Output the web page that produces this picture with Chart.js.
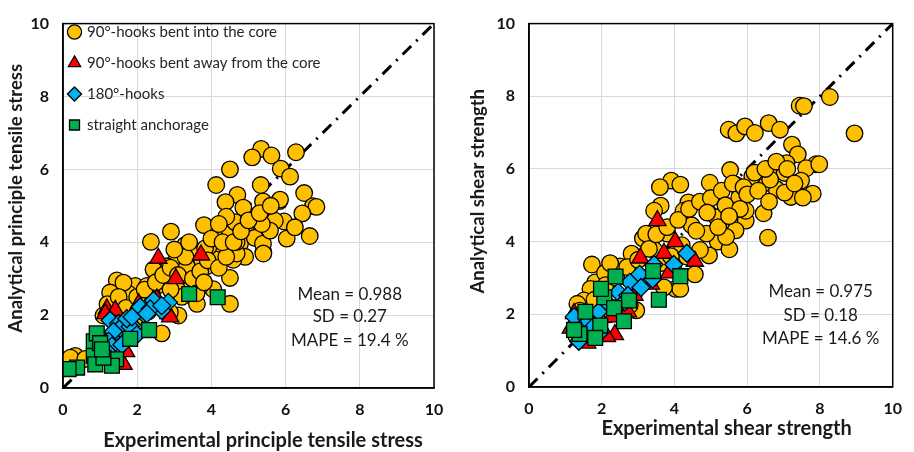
<!DOCTYPE html>
<html>
<head>
<meta charset="utf-8">
<script src="https://cdn.jsdelivr.net/npm/chart.js@4.4.1/dist/chart.umd.min.js"></script>
<style>
  body { margin: 0; background: #fff; }
  #wrap { display: flex; width: 914px; height: 452px; }
  .box { position: relative; width: 457px; height: 452px; }
</style>
</head>
<body>
<div id="wrap">
  <div class="box"><canvas id="tensileChart"></canvas></div>
  <div class="box"><canvas id="shearChart"></canvas></div>
</div>
<script>
// font giống Calibri
Chart.defaults.font.family = "Lato, 'Open Sans', sans-serif";
Chart.defaults.color = "#1a1a1a";

// ---- nhãn ----
const seriesLabels = [
  "90°-hooks bent into the core",
  "90°-hooks bent away from the core",
  "180°-hooks",
  "straight anchorage",
];
const axisTicks = [0, 2, 4, 6, 8, 10];
const tensileStats = ["Mean = 0.988", "SD = 0.27", "MAPE = 19.4 %"];
const shearStats = ["Mean = 0.975", "SD = 0.18", "MAPE = 14.6 %"];

// ---- principle tensile stress (trái) ----
const tCoreExp = [5.34,5.10,5.62,6.28,4.50,5.87,6.12,4.13,5.33,4.70,6.50,4.38,4.86,5.83,6.74,6.83,5.49,6.45,3.80,4.62,
  5.13,5.96,5.67,4.32,4.95,5.20,5.40,6.03,6.25,6.65,2.91,2.37,3.29,3.52,4.10,4.59,4.77,4.91,5.40,3.07,
  2.80,3.47,3.87,4.14,4.59,4.50,4.05,3.61,4.50,3.70,2.53,2.62,1.45,1.27,1.95,1.77,1.63,2.39,3.11,2.66,
  2.88,1.09,0.33,0.20,1.54,2.04,3.29,3.07,3.92,3.74,3.34,2.44,2.26,5.39,5.17,3.83,4.68,4.50,5.39,5.85,
  5.71,5.58,4.64,5.36,4.68,5.40,1.20,1.50,1.70,2.00,2.20,2.50,2.70,2.90,3.10,3.30,3.50,3.70,3.90,4.20,
  4.40,4.00,4.30,3.60,3.80,2.30,2.00,1.80,1.30,0.60,0.90,3.20,2.90,3.00,3.40,4.60,4.80,5.00,5.30,5.60,
  4.40,4.20];
const tCoreAna = [6.56,6.33,6.38,6.47,6.00,6.02,5.80,5.57,5.57,5.30,5.35,5.10,4.95,5.13,4.99,4.97,4.86,4.79,4.47,4.53,
  4.54,4.57,4.59,4.32,4.28,4.14,4.45,4.10,4.41,4.17,4.29,4.01,3.92,3.78,3.74,3.78,3.96,3.60,3.74,3.56,
  3.34,3.25,3.34,3.52,3.52,3.02,2.71,2.31,2.31,2.80,2.80,3.16,2.95,2.62,2.80,2.58,2.89,2.58,1.99,1.50,
  2.08,1.99,0.88,0.83,2.26,2.17,2.67,2.71,3.87,3.52,3.34,3.25,2.80,5.12,4.12,3.83,3.69,4.23,3.96,5.17,
  4.59,4.32,4.55,4.50,4.01,3.69,2.30,2.50,2.20,2.50,2.70,2.90,3.10,3.30,3.10,3.60,3.00,3.20,3.50,3.30,
  3.60,4.10,4.00,2.60,2.90,2.10,1.90,1.60,1.40,0.80,1.10,2.50,2.70,3.80,4.00,4.00,4.30,4.60,4.80,5.00,
  4.70,4.50];
const tAwayExp = [2.57,3.72,3.04,1.18,1.41,2.04,2.84,1.59,1.14,2.89,1.63,2.53,1.70,2.20];
const tAwayAna = [3.56,3.65,3.00,2.17,2.13,2.31,2.04,0.70,2.04,1.95,0.65,2.44,1.00,1.60];
const tHookExp = [1.27,1.50,2.44,2.84,1.90,1.45,2.17,2.66,1.36,1.54,1.36,2.08,2.35,2.66,1.81,1.23,1.72,1.86,2.26,1.32,1.59,1.99,1.27];
const tHookAna = [1.86,1.77,2.40,2.35,1.68,1.32,2.04,2.13,1.46,1.64,1.55,2.22,2.17,2.26,1.68,1.28,1.90,1.95,2.04,1.15,1.19,1.46,0.92];
const tStraightExp = [3.40,4.17,2.32,1.81,0.83,0.83,1.43,0.38,0.15,0.91,1.00,0.87,1.32,1.09,1.05];
const tStraightAna = [2.58,2.49,1.59,1.35,1.28,0.88,0.79,0.56,0.52,1.50,1.23,0.65,0.61,0.83,1.06];

// ---- shear strength (phải) ----
const sCoreExp = [8.27,8.95,7.44,7.56,5.49,5.70,5.94,6.21,6.59,6.90,7.23,7.39,7.89,7.62,6.68,7.03,7.48,7.80,7.20,6.81,
  6.41,5.53,5.68,6.14,4.97,3.91,4.16,3.60,3.62,3.44,4.38,4.25,4.92,5.16,5.49,5.73,5.96,6.45,6.57,4.47,
  3.13,3.44,2.82,5.19,5.51,4.95,4.70,4.03,4.16,3.71,4.56,1.73,2.50,1.82,1.69,1.51,1.33,2.95,2.77,2.09,
  2.23,3.22,3.80,4.88,5.78,5.96,6.63,7.08,7.53,7.98,7.03,5.68,5.42,4.34,3.98,3.62,1.40,1.80,2.10,2.40,
  2.70,3.00,3.30,3.50,3.80,4.10,4.40,4.70,5.00,5.30,5.60,5.90,6.20,6.50,6.80,7.10,5.40,5.20,4.60,4.90,
  4.20,3.90,3.20,2.90,2.60,2.20,1.90,1.50,1.30,6.00,6.30,5.80,5.50,6.60,7.30];
const sCoreAna = [7.98,6.98,7.74,7.73,7.08,6.98,7.17,6.99,7.26,7.08,6.67,6.40,6.13,6.02,6.04,5.89,5.68,5.32,5.23,5.44,
  5.57,5.97,5.57,5.80,5.62,5.68,5.57,5.50,4.99,4.85,5.08,4.85,4.81,4.67,4.40,5.03,4.58,4.78,4.11,4.45,
  4.09,3.77,3.67,4.00,3.79,3.62,3.77,2.70,2.70,2.74,3.10,3.37,3.32,2.88,2.70,2.38,2.29,2.11,2.25,3.14,
  3.41,4.22,4.22,4.22,5.21,4.85,5.71,6.16,5.21,6.13,5.35,4.31,4.13,3.59,3.23,3.41,2.10,2.40,2.80,3.00,
  3.30,3.50,3.80,4.20,4.40,4.60,4.90,5.10,5.20,5.40,5.60,5.50,5.90,6.00,6.20,6.00,5.00,4.40,4.30,4.80,
  3.90,3.60,3.00,2.60,2.30,2.00,1.80,1.60,1.40,5.30,5.40,4.90,4.70,5.10,5.60];
const sAwayExp = [3.53,4.02,3.71,3.06,4.56,3.85,3.35,2.90,1.24,1.15,2.36,2.14,1.60,2.72,2.27];
const sAwayAna = [4.58,4.00,3.68,3.55,3.46,3.14,2.83,2.52,2.02,1.62,1.44,1.39,1.21,2.07,1.93];
const sHookExp = [4.34,3.98,3.44,3.04,2.77,3.08,2.45,2.18,1.91,1.24,1.64,1.37,1.73,1.98,2.63,2.72,1.28,3.40];
const sHookAna = [3.68,3.37,3.37,3.10,2.88,2.74,2.61,2.29,2.07,1.93,1.80,1.26,1.62,1.53,2.34,2.52,1.53,2.97];
const sStraightExp = [2.38,3.41,4.16,3.57,2.07,2.75,1.98,2.34,1.55,2.61,1.96,1.39,1.82,1.24];
const sStraightAna = [3.04,3.19,3.05,2.40,2.47,2.38,2.70,2.17,2.07,1.81,1.69,1.46,1.35,1.57];

function pts(xs, ys) {
  return xs.map((x, i) => ({ x: x, y: ys[i] }));
}

// kiểu marker cho từng nhóm
const markerStyles = [
  { pointStyle: "circle", color: "#FFC000", radius: 8.3, order: 4 },
  { pointStyle: "triangle", color: "#FF0000", radius: 10, order: 3 },
  { pointStyle: "rectRot", color: "#00B0F0", radius: 9, order: 2 },
  { pointStyle: "rect", color: "#00B050", radius: 10.5, order: 1 },
];

// vẽ khung quanh vùng biểu đồ
const framePlugin = {
  id: "frameBox",
  afterDraw(chart) {
    const a = chart.chartArea;
    const c = chart.ctx;
    c.save();
    c.strokeStyle = "#000";
    c.lineWidth = 1.5;
    c.strokeRect(a.left, a.top, a.right - a.left, a.bottom - a.top);
    c.restore();
  },
};
// chữ thống kê (Mean, SD, MAPE)
const statsPlugin = {
  id: "statsText",
  afterDatasetsDraw(chart, args, opts) {
    if (!opts.lines) return;
    const c = chart.ctx;
    const xs = chart.scales.x;
    const ys = chart.scales.y;
    c.save();
    c.font = "17px Lato, 'Open Sans', sans-serif";
    c.fillStyle = "#1a1a1a";
    c.textAlign = "center";
    c.textBaseline = "middle";
    opts.lines.forEach((t, i) => {
      c.fillText(t, xs.getPixelForValue(opts.x), ys.getPixelForValue(opts.y[i]));
    });
    c.restore();
  },
};
// tiêu đề trục (lệch tâm như hình gốc)
const axisTitlePlugin = {
  id: "axisTitles",
  afterDraw(chart, args, opts) {
    if (!opts.x) return;
    const a = chart.chartArea;
    const c = chart.ctx;
    c.save();
    c.fillStyle = "#1a1a1a";
    c.textAlign = "center";
    c.textBaseline = "middle";
    c.font = "bold 20px Lato, 'Open Sans', sans-serif";
    c.fillText(opts.x.text, (a.left + a.right) / 2 + opts.x.dx, opts.x.y);
    c.translate(opts.y.x, (a.top + a.bottom) / 2 + opts.y.dy);
    c.rotate(-Math.PI / 2);
    c.font = "bold 18.5px Lato, 'Open Sans', sans-serif";
    c.fillText(opts.y.text, 0, 0);
    c.restore();
  },
};
const legendShift = {
  id: "legendShift",
  afterLayout(chart, args, opts) {
    if (chart.legend && chart.legend.options.display && opts.dx !== undefined) {
      chart.legend.left += opts.dx;
      chart.legend.top += opts.dy;
    }
  },
};

function makeChart(id, series, titles, stats, lay) {
  const datasets = series.map((s, i) => ({
    type: "scatter",
    label: seriesLabels[i],
    data: s,
    pointStyle: markerStyles[i].pointStyle,
    pointRadius: markerStyles[i].radius,
    pointHoverRadius: markerStyles[i].radius,
    backgroundColor: markerStyles[i].color,
    borderColor: "#000",
    borderWidth: 1.3,
    order: markerStyles[i].order,
  }));
  // đường 1:1
  datasets.push({
    type: "line",
    label: "1:1",
    data: [{ x: 0, y: 0 }, { x: 10, y: 10 }],
    borderColor: "#000",
    borderWidth: 3,
    borderDash: [12, 7, 2, 7],
    pointRadius: 0,
    order: 5,
  });

  return new Chart(document.getElementById(id), {
    type: "scatter",
    data: { datasets: datasets },
    options: {
      responsive: true,
      maintainAspectRatio: false,
      animation: false,
      layout: { padding: lay.padding },
      scales: {
        x: {
          type: "linear",
          min: 0,
          max: 10,
          afterBuildTicks: (scale) => { scale.ticks = axisTicks.map((v) => ({ value: v })); },
          afterFit: (scale) => { scale.height = lay.xHeight; },
          ticks: { font: { size: 16, weight: "bold" }, padding: 12, color: "#111" },
          grid: { color: "#d9d9d9", lineWidth: 1, drawTicks: false },
          border: { color: "#000", width: 1.5 },
        },
        y: {
          type: "linear",
          min: 0,
          max: 10,
          afterBuildTicks: (scale) => { scale.ticks = axisTicks.map((v) => ({ value: v })); },
          afterFit: (scale) => { scale.width = lay.yWidth; },
          ticks: { font: { size: 16, weight: "bold" }, padding: 14, color: "#111" },
          grid: { color: "#d9d9d9", lineWidth: 1, drawTicks: false },
          border: { color: "#000", width: 1.5 },
        },
      },
      plugins: {
        legend: {
          display: lay.legend,
          position: "chartArea",
          align: "start",
          labels: {
            usePointStyle: true,
            boxWidth: 10,
            boxHeight: 10,
            padding: 16,
            color: "#262626",
            font: { size: 15 },
            filter: (item) => item.datasetIndex < 4,
            sort: (a, b) => a.datasetIndex - b.datasetIndex,
          },
        },
        tooltip: { enabled: false },
        statsText: stats,
        axisTitles: titles,
        legendShift: lay.legend ? { dx: -9.5, dy: 8.5 } : {},
      },
    },
    plugins: [framePlugin, statsPlugin, axisTitlePlugin, legendShift],
  });
}

makeChart(
  "tensileChart",
  [pts(tCoreExp, tCoreAna), pts(tAwayExp, tAwayAna), pts(tHookExp, tHookAna), pts(tStraightExp, tStraightAna)],
  {
    x: { text: "Experimental principle tensile stress", dx: 14.5, y: 441 },
    y: { text: "Analytical principle tensile stress", x: 16, dy: -7.5 },
  },
  { lines: tensileStats, x: 7.73, y: [2.57, 1.95, 1.31] },
  {
    padding: { left: 0, right: 23, top: 15, bottom: 0 },
    xHeight: 64, yWidth: 63,
    legend: true,
  }
);

makeChart(
  "shearChart",
  [pts(sCoreExp, sCoreAna), pts(sAwayExp, sAwayAna), pts(sHookExp, sHookAna), pts(sStraightExp, sStraightAna)],
  {
    x: { text: "Experimental shear strength", dx: 15.7, y: 429 },
    y: { text: "Analytical shear strength", x: 21, dy: -14 },
  },
  { lines: shearStats, x: 8.02, y: [2.63, 1.98, 1.34] },
  {
    padding: { left: 0, right: 14, top: 16, bottom: 0 },
    xHeight: 65, yWidth: 72,
    legend: false,
  }
);
</script>
</body>
</html>
